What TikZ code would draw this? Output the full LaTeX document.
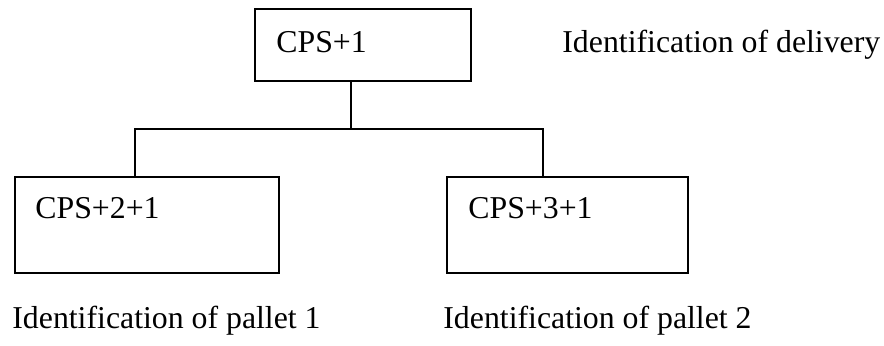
\documentclass[tikz,border=0pt]{standalone}
\usepackage{fontspec}
\setmainfont{Liberation Serif}
\tikzset{
  box/.style={draw, line width=1pt, rectangle, inner sep=0pt},
  txt/.style={anchor=base west, inner sep=0pt, font=\fontsize{15.9}{18}\selectfont}
}
\begin{document}
\begin{tikzpicture}[x=0.5pt,y=-0.5pt]
    \useasboundingbox (0,0) rectangle (884,345);

    \node[box, minimum width=108pt, minimum height=36pt] (top) at (363,45) {};
    \node[box, minimum width=132pt, minimum height=48pt] (p1) at (147,225) {};
    \node[box, minimum width=120.5pt, minimum height=48pt] (p2) at (567.5,225) {};

    \node[txt] (toptxt) at (276,52) {CPS+1};
    \node[txt] (p1txt) at (35,218) {CPS+2+1};
    \node[txt] (p2txt) at (468,218) {CPS+3+1};

    \node[txt] (deliv) at (562,52) {Identification of delivery};
    \node[txt] (pal1) at (12,328) {Identification of pallet 1};
    \node[txt] (pal2) at (443,328) {Identification of pallet 2};

    \coordinate (j) at (351,129);
    \coordinate (jl) at (135,129);
    \coordinate (jr) at (543,129);
    \draw[line width=1pt] (j |- top.south) -- (j);
    \draw[line width=1pt] (jl |- p1.north) -- (jl) -- (jr) -- (jr |- p2.north);
\end{tikzpicture}
\end{document}
